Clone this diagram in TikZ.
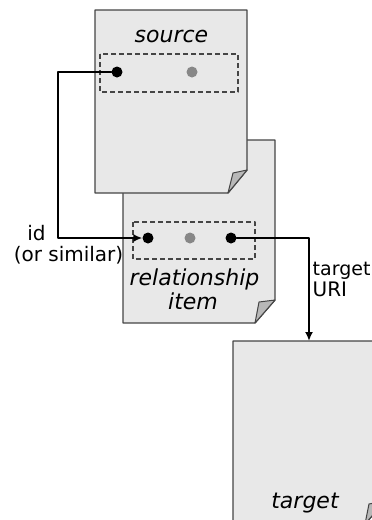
\documentclass[tikz,border=0pt]{standalone}
\usepackage{fontspec}
\setmainfont{DejaVu Sans}
\usetikzlibrary{arrows.meta}
\definecolor{pagegray}{rgb}{0.91,0.91,0.91}
\definecolor{edgegray}{rgb}{0.27,0.27,0.27}
\definecolor{dotgray}{rgb}{0.53,0.53,0.53}
\definecolor{foldgray}{rgb}{0.72,0.72,0.72}

\begin{document}
\begin{tikzpicture}[line cap=round,line join=round,x=1pt,y=-1pt,
    blackdot/.style={circle,fill=black,inner sep=0pt,minimum size=11pt},
    graydot/.style={circle,fill=dotgray,inner sep=0pt,minimum size=11pt},
    link/.style={line width=2.3pt,-{Latex[length=9pt,width=8pt]}},
    slot/.style={draw=edgegray,dash pattern=on 5pt off 3pt,line width=1.2pt,line cap=butt},
    sheet/.style={fill=pagegray,draw=edgegray,line width=1.4pt},
    title/.style={font=\fontsize{22}{24}\selectfont\itshape,inner sep=0pt},
    note/.style={font=\fontsize{20}{21}\selectfont,inner sep=0pt}]

    \clip (0,0) rectangle (372,520);

    % relationship item page (behind the source)
    \filldraw[sheet] (123,140) -- (275,140) -- (275,300) -- (255,323) -- (123,323) -- cycle;
    \filldraw[fill=foldgray,draw=edgegray,line width=1pt] (255,323) -- (259,302) -- (275,300) -- cycle;

    % source page
    \filldraw[sheet] (95,10) -- (247,10) -- (247,170) -- (228,193) -- (95,193) -- cycle;
    \filldraw[fill=foldgray,draw=edgegray,line width=1pt] (228,193) -- (233,173) -- (247,170) -- cycle;

    % target page
    \filldraw[sheet] (233,341) -- (385,341) -- (385,501) -- (365,524) -- (233,524) -- cycle;
    \filldraw[fill=foldgray,draw=edgegray,line width=1pt] (365,524) -- (369,504) -- (385,501) -- cycle;

    % titles
    \node[title,anchor=base] (srctitle) at (171.5,42) {source};
    \node[title,anchor=base] (reltitle) at (194.5,285) {relationship};
    \node[title,anchor=base] (reltitle2) at (193,309) {item};
    \node[title,anchor=base] (tgttitle) at (305,508) {target};

    % dashed slots
    \draw[slot] (100,54) rectangle (238,92);
    \draw[slot] (133,222) rectangle (255,259);

    % dots
    \node[blackdot] (srcid) at (117,72) {};
    \node[graydot] (srcother) at (192,72) {};
    \node[blackdot] (relid) at (148,238) {};
    \node[graydot] (relother) at (190,238) {};
    \node[blackdot] (relref) at (231,238) {};

    % links
    \coordinate (bendL) at (58,72);
    \coordinate (tgttop) at (309,341);
    \draw[link] (srcid) -- (bendL) |- (relid);
    \draw[link] (relref) -| (tgttop);

    % labels
    \node[note,anchor=base] (idtag) at (36.5,240) {id};
    \node[note,anchor=base] (idnote) at (68.5,261) {(or similar)};
    \node[note,anchor=base west,font=\fontsize{19}{20}\selectfont] (uritag) at (312.5,275) {target};
    \node[note,anchor=base west] (uritag2) at (312.5,296) {URI};
\end{tikzpicture}
\end{document}
